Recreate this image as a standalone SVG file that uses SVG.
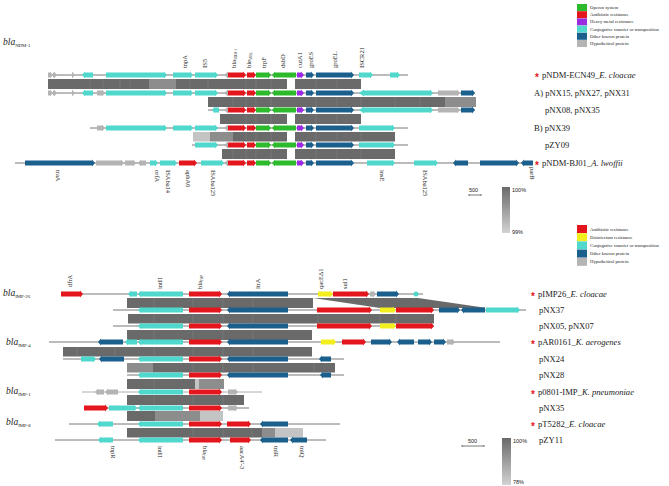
<svg xmlns="http://www.w3.org/2000/svg" width="669" height="486" viewBox="0 0 669 486">
<style>
.c{fill:#4fd8cb}.r{fill:#e3161d}.g{fill:#2dba2d}.p{fill:#9a2be0}.b{fill:#1b5f8d}.h{fill:#b4b4b4}.y{fill:#f3ee1d}
.ln{stroke:#555;stroke-width:0.8;fill:none}
.ll{stroke:#999;stroke-width:0.8;fill:none}
.bd{fill:#6a6a6a}.md{fill:#8d8d8d}.lt{fill:#c4c4c4}
.sep{stroke:#7f7f7f;stroke-width:0.6;fill:none}
text{font-family:"Liberation Serif","Times New Roman",serif;fill:#1a1a1a}
.gl{font-size:6.5px}
.sub{font-size:3.6px}
.lb{font-size:8.6px}
.lg{font-size:4.7px}
.sc{font-family:"Liberation Sans",Arial,sans-serif;font-size:5.5px}
.st{font-family:"Liberation Sans",Arial,sans-serif;font-size:10px;font-weight:bold;fill:#e3161d}
.it{font-style:italic}
</style>
<defs>
<linearGradient id="grad" x1="0" y1="0" x2="0" y2="1"><stop offset="0" stop-color="#6a6a6a"/><stop offset="1" stop-color="#d2d2d2"/></linearGradient>
<g id="core1">
<path class="h" d="M228 -3.5L224 0L228 3.5z"/>
<path class="r" d="M228 -2.5H243v-1l3 3.5-3 3.5v-1H228z"/>
<path class="r" d="M247 -2.5H253v-1l3 3.5-3 3.5v-1H247z"/>
<path class="g" d="M256 -2.5H268v-1l3 3.5-3 3.5v-1H256z"/>
<path class="g" d="M296 -2.5H275v-1l-3 3.5 3 3.5v-1H296z"/>
<path class="p" d="M297 -2.5H301v-1l3 3.5-3 3.5v-1H297z"/>
<path class="b" d="M306 -2.5H311v-1l3 3.5-3 3.5v-1H306z"/>
<path class="b" d="M316 -2.5H351v-1l3 3.5-3 3.5v-1H316z"/>
</g>
<g id="left3" class="c">
<path d="M106 -2.5H164v-1l3 3.5-3 3.5v-1H106z"/>
<path d="M173 -2.5H190v-1l3 3.5-3 3.5v-1H173z"/>
<path d="M195 -2.5H215v-1l3 3.5-3 3.5v-1H195z"/>
</g>
<g id="rt2">
<path class="c" d="M364 -3.5L359 0L364 3.5z"/>
<path class="c" d="M364 -2.5H430v-1l3 3.5-3 3.5v-1H364z"/>
<path class="h" d="M438 -2.5H457v-1l3 3.5-3 3.5v-1H438z"/>
<path class="b" d="M461 -2.5H472v-1l3 3.5-3 3.5v-1H461z"/>
</g>
<g id="gg">
<path class="h" d="M48 -2.5H50v-1l3 3.5-3 3.5v-1H48z"/>
<path class="h" d="M53 -2.5H54v-1l3 3.5-3 3.5v-1H53z"/>
<path class="h" d="M72 -3.5L75 0L72 3.5z"/>
<path class="c" d="M93 -2.5H85v-1l-3 3.5 3 3.5v-1H93z"/>
</g>
<g id="bc1">
<path class="c" d="M183 -2.5H141v-1l-3 3.5 3 3.5v-1H183z"/>
<path class="r" d="M189 -2.5H219v-1l3 3.5-3 3.5v-1H189z"/>
</g>
<path id="bc2" class="b" d="M288 -2.5H230v-1l-3 3.5 3 3.5v-1H288z"/>
</defs>

<g id="legend-top">
<rect x="577" y="4" width="10" height="7" fill="#2dba2d"/>
<rect x="577" y="11.2" width="10" height="7" fill="#e3161d"/>
<rect x="577" y="18.4" width="10" height="7" fill="#9a2be0"/>
<rect x="577" y="25.6" width="10" height="7" fill="#4fd8cb"/>
<rect x="577" y="32.8" width="10" height="7" fill="#1b5f8d"/>
<rect x="577" y="40" width="10" height="7" fill="#b4b4b4"/>
<text class="lg" x="590" y="9">Operon system</text>
<text class="lg" x="590" y="16.2">Antibiotic resistance</text>
<text class="lg" x="590" y="23.4">Heavy metal resistance</text>
<text class="lg" x="590" y="30.6">Conjugative transfer or transposition</text>
<text class="lg" x="590" y="37.8">Other known protein</text>
<text class="lg" x="590" y="45">Hypothetical protein</text>
</g>

<g id="legend-bottom">
<rect x="577" y="225" width="10" height="8" fill="#e3161d"/>
<rect x="577" y="233.2" width="10" height="8" fill="#f3ee1d"/>
<rect x="577" y="241.4" width="10" height="8" fill="#4fd8cb"/>
<rect x="577" y="249.6" width="10" height="8" fill="#1b5f8d"/>
<rect x="577" y="257.8" width="10" height="8" fill="#b4b4b4"/>
<text class="lg" x="590" y="230.5">Antibiotic resistance</text>
<text class="lg" x="590" y="238.7">Disinfectant resistance</text>
<text class="lg" x="590" y="246.9">Conjugative transfer or transposition</text>
<text class="lg" x="590" y="255.1">Other known protein</text>
<text class="lg" x="590" y="263.3">Hypothetical protein</text>
</g>

<g id="bands-top">
<rect class="bd" x="48" y="79" width="239" height="10"/>
<rect class="md" x="149" y="79" width="27" height="10"/>
<rect class="bd" x="295" y="79" width="66" height="10"/>
<rect class="bd" x="208" y="97" width="237" height="10"/>
<rect class="md" x="445" y="97" width="31" height="10"/>
<rect class="bd" x="220" y="114" width="67" height="10"/>
<rect class="bd" x="295" y="114" width="66" height="10"/>
<rect class="lt" x="193" y="132" width="17" height="9.5"/>
<rect class="md" x="210" y="132" width="23" height="9.5"/>
<rect class="bd" x="233" y="132" width="54" height="9.5"/>
<rect class="bd" x="295" y="132" width="100" height="9.5"/>
<rect class="bd" x="222" y="149" width="65" height="10"/>
<rect class="bd" x="295" y="149" width="100" height="10"/>
<path class="sep" d="M90 79v10M103 79v10M120 79v10M130 79v10M190 79v10M208 79v10M246 79v10M256 79v10M271 79v10M316 79v10M337 79v10M233 97v10M246 97v10M256 97v10M271 97v10M316 97v10M337 97v10M361 97v10M395 97v10M420 97v10M246 114v10M256 114v10M271 114v10M316 114v10M337 114v10M246 132v9.5M256 132v9.5M271 132v9.5M316 132v9.5M337 132v9.5M361 132v9.5M233 149v10M246 149v10M256 149v10M271 149v10M316 149v10M337 149v10M361 149v10"/>
</g>

<g id="row-pNDM-ECN49" transform="translate(0,75)">
<path class="ln" d="M48 0H408"/>
<use href="#gg"/><use href="#left3"/><use href="#core1"/>
<path class="c" d="M359 -2.5H370v-1l3 3.5-3 3.5v-1H359z"/>
<path class="c" d="M390 -2.5H397v-1l3 3.5-3 3.5v-1H390z"/>
</g>
<g id="row-A" transform="translate(0,93)">
<path class="ln" d="M48 0H475"/>
<use href="#gg"/>
<path class="h" d="M97 -2.5H102v-1l3 3.5-3 3.5v-1H97z"/>
<use href="#left3"/><use href="#core1"/><use href="#rt2"/>
</g>
<g id="row-pNX08" transform="translate(0,110)">
<path class="ln" d="M208 0H475"/>
<path class="c" d="M219 -2.5H215v-1l-3 3.5 3 3.5v-1H219z"/>
<use href="#core1"/><use href="#rt2"/>
</g>
<g id="row-B" transform="translate(0,128)">
<path class="ln" d="M90 0H408"/>
<path class="h" d="M97 -2.5H102v-1l3 3.5-3 3.5v-1H97z"/>
<use href="#left3"/><use href="#core1"/>
<path class="c" d="M359 -2.5H392v-1l3 3.5-3 3.5v-1H359z"/>
</g>
<g id="row-pZY09" transform="translate(0,145)">
<path class="ln" d="M192 0H408"/>
<path class="c" d="M195 -2.5H215v-1l3 3.5-3 3.5v-1H195z"/>
<use href="#core1"/>
<path class="c" d="M359 -2.5H392v-1l3 3.5-3 3.5v-1H359z"/>
</g>
<g id="row-pNDM-BJ01" transform="translate(0,163)">
<path class="ln" d="M15 0H533"/>
<path class="b" d="M25 -2.5H92v-1l3 3.5-3 3.5v-1H25z"/>
<path class="h" d="M96 -2.5H121v-1l3 3.5-3 3.5v-1H96z"/>
<path class="h" d="M125 -2.5H133v-1l3 3.5-3 3.5v-1H125z"/>
<path class="h" d="M146 -2.5H141v-1l-3 3.5 3 3.5v-1H146z"/>
<path class="c" d="M150 -2.5H155v-1l3 3.5-3 3.5v-1H150z"/>
<path class="c" d="M160 -2.5H174v-1l3 3.5-3 3.5v-1H160z"/>
<path class="r" d="M179 -2.5H194v-1l3 3.5-3 3.5v-1H179z"/>
<path class="c" d="M201 -2.5H221v-1l3 3.5-3 3.5v-1H201z"/>
<use href="#core1"/>
<path class="c" d="M367 -2.5H392v-1l3 3.5-3 3.5v-1H367z"/>
<path class="c" d="M414 -2.5H435v-1l3 3.5-3 3.5v-1H414z"/>
<path class="b" d="M468 -2.5H456v-1l-3 3.5 3 3.5v-1H468z"/>
<path class="b" d="M480 -2.5H516v-1l3 3.5-3 3.5v-1H480z"/>
<path class="b" d="M533 -2.5H524v-1l-3 3.5 3 3.5v-1H533z"/>
</g>

<g id="labels-top">
<text x="3" y="45" class="it" font-size="9.5">bla<tspan font-style="normal" font-size="4.8" dy="1.5">NDM-1</tspan></text>
<text class="gl" transform="translate(187,68) rotate(-90)">tnpA</text>
<text class="gl" transform="translate(207,68) rotate(-90)">IS5</text>
<text class="gl" transform="translate(236,68) rotate(-90)">bla<tspan class="sub" dy="1">NDM-1</tspan></text>
<text class="gl" transform="translate(251,68) rotate(-90)">ble<tspan class="sub" dy="1">MBL</tspan></text>
<text class="gl" transform="translate(266,68) rotate(-90)">trpF</text>
<text class="gl" transform="translate(285,68) rotate(-90)">dsbD</text>
<text class="gl" transform="translate(302,68) rotate(-90)">cutA1</text>
<text class="gl" transform="translate(313,68) rotate(-90)">groES</text>
<text class="gl" transform="translate(337,68) rotate(-90)">groEL</text>
<text class="gl" transform="translate(364,68) rotate(-90)">ISCR21</text>
<text class="gl" transform="translate(56,170) rotate(90)">traA</text>
<text class="gl" transform="translate(155,170) rotate(90)">orfA</text>
<text class="gl" transform="translate(166,170) rotate(90)">ISAba14</text>
<text class="gl" transform="translate(186,170) rotate(90)">aphA6</text>
<text class="gl" transform="translate(211,170) rotate(90)">ISAba125</text>
<text class="gl" transform="translate(380,170) rotate(90)">insE</text>
<text class="gl" transform="translate(423,170) rotate(90)">ISAba125</text>
<text class="gl" transform="translate(530,167) rotate(90)">parB</text>
<text class="st" x="535" y="81">*</text>
<text class="lb" x="542" y="78">pNDM-ECN49_<tspan class="it">E. cloacae</tspan></text>
<text class="lb" x="534" y="96">A) pNX15, pNX27, pNX31</text>
<text class="lb" x="545" y="113">pNX08, pNX35</text>
<text class="lb" x="534" y="131">B) pNX39</text>
<text class="lb" x="545" y="148">pZY09</text>
<text class="st" x="535" y="169">*</text>
<text class="lb" x="542" y="166">pNDM-BJ01_<tspan class="it">A. lwoffii</tspan></text>
</g>

<g id="scale-top">
<text class="sc" x="469" y="192">500</text>
<path class="ln" d="M469 195H481M469 194v2M481 194v2" stroke-width="0.6"/>
<rect x="502" y="187" width="8" height="46" fill="url(#grad)"/>
<text class="sc" x="512" y="192">100%</text>
<text class="sc" x="512" y="234">99%</text>
</g>

<g id="bands-bottom">
<rect class="bd" x="127" y="298" width="186" height="10"/>
<polygon class="bd" points="313,298 418,298 487,308 380,308"/>
<rect class="bd" x="128" y="314" width="306" height="9.5"/>
<rect class="bd" x="127" y="330" width="185" height="10"/>
<rect class="bd" x="63" y="347" width="249" height="9.5"/>
<rect class="md" x="127" y="363" width="26" height="9.5"/>
<rect class="bd" x="153" y="363" width="182" height="9.5"/>
<rect class="bd" x="127" y="379" width="68" height="10"/>
<rect class="lt" x="195" y="379" width="4" height="10"/>
<rect class="md" x="199" y="379" width="25" height="10"/>
<rect class="bd" x="127" y="395" width="117" height="10"/>
<rect class="bd" x="127" y="411" width="28" height="10"/>
<rect class="md" x="155" y="411" width="45" height="10"/>
<rect class="lt" x="200" y="411" width="23" height="10"/>
<rect class="bd" x="127" y="428" width="135" height="9.5"/>
<rect class="md" x="262" y="428" width="13" height="9.5"/>
<rect class="lt" x="275" y="428" width="28" height="9.5"/>
<path class="sep" d="M154 298v10M193 298v10M223 298v10M253 298v10M154 314v9.5M193 314v9.5M223 314v9.5M253 314v9.5M318 314v9.5M380 314v9.5M396 314v9.5M154 330v10M193 330v10M223 330v10M253 330v10M77 347v9.5M115 347v9.5M154 347v9.5M193 347v9.5M223 347v9.5M253 347v9.5M193 363v9.5M223 363v9.5M253 363v9.5M314 363v9.5M154 379v10M154 395v10M193 395v10M223 395v10M193 428v9.5M223 428v9.5M252 428v9.5"/>
</g>

<g id="row-pIMP26" transform="translate(0,294)">
<path class="ln" d="M61 0H423"/>
<path class="r" d="M61 -2.5H80v-1l3 3.5-3 3.5v-1H61z"/>
<path class="c" d="M137 -2.5H131v-1l-3 3.5 3 3.5v-1H137z"/>
<use href="#bc1"/><use href="#bc2"/>
<path class="y" d="M318 -2.5H330v-1l3 3.5-3 3.5v-1H318z"/>
<path class="r" d="M333 -2.5H366v-1l3 3.5-3 3.5v-1H333z"/>
<path class="h" d="M370 -2.5H373v-1l3 3.5-3 3.5v-1H370z"/>
<path class="b" d="M377 -2.5H396v-1l3 3.5-3 3.5v-1H377z"/>
<circle class="c" cx="416" cy="0" r="2.5"/>
</g>
<g id="row-pNX37" transform="translate(0,310)">
<path class="ln" d="M113 0H526"/>
<use href="#bc1"/><use href="#bc2"/>
<path class="r" d="M317 -2.5H369v-1l3 3.5-3 3.5v-1H317z"/>
<path class="y" d="M380 -2.5H393v-1l3 3.5-3 3.5v-1H380z"/>
<path class="r" d="M396 -2.5H431v-1l3 3.5-3 3.5v-1H396z"/>
<path class="b" d="M439 -2.5H457v-1l3 3.5-3 3.5v-1H439z"/>
<path class="b" d="M485 -2.5H464v-1l-3 3.5 3 3.5v-1H485z"/>
<path class="c" d="M486 -2.5H517v-1l3 3.5-3 3.5v-1H486z"/>
</g>
<g id="row-pNX05" transform="translate(0,326)">
<path class="ln" d="M113 0H434"/>
<use href="#bc1"/><use href="#bc2"/>
<path class="r" d="M317 -2.5H369v-1l3 3.5-3 3.5v-1H317z"/>
<path class="y" d="M380 -2.5H393v-1l3 3.5-3 3.5v-1H380z"/>
<path class="r" d="M396 -2.5H431v-1l3 3.5-3 3.5v-1H396z"/>
</g>
<g id="row-pAR0161" transform="translate(0,342)">
<path class="ln" d="M49 0H500"/>
<path class="b" d="M123 -2.5H101v-1l-3 3.5 3 3.5v-1H123z"/>
<path class="c" d="M137 -2.5H128v-1l-3 3.5 3 3.5v-1H137z"/>
<use href="#bc1"/><use href="#bc2"/>
<path class="y" d="M321 -2.5H333v-1l3 3.5-3 3.5v-1H321z"/>
<path class="r" d="M342 -2.5H363v-1l3 3.5-3 3.5v-1H342z"/>
<path class="b" d="M371 -2.5H389v-1l3 3.5-3 3.5v-1H371z"/>
<path class="b" d="M414 -2.5H400v-1l-3 3.5 3 3.5v-1H414z"/>
<path class="b" d="M418 -2.5H429v-1l3 3.5-3 3.5v-1H418z"/>
<path class="b" d="M434 -2.5H443v-1l3 3.5-3 3.5v-1H434z"/>
<path class="h" d="M447 -2.5H452v-1l3 3.5-3 3.5v-1H447z"/>
</g>
<g id="row-pNX24" transform="translate(0,359)">
<path class="ln" d="M63 0H344"/>
<path class="c" d="M81 -2.5H93v-1l3 3.5-3 3.5v-1H81z"/>
<path class="b" d="M124 -2.5H102v-1l-3 3.5 3 3.5v-1H124z"/>
<use href="#bc1"/><use href="#bc2"/>
<path class="b" d="M331 -2.5H322v-1l-3 3.5 3 3.5v-1H331z"/>
</g>
<g id="row-pNX28" transform="translate(0,375)">
<path class="ln" d="M127 0H344"/>
<use href="#bc1"/><use href="#bc2"/>
<path class="b" d="M331 -2.5H323v-1l-3 3.5 3 3.5v-1H331z"/>
</g>
<g id="row-p0801" transform="translate(0,392)">
<path class="ll" d="M82 0H262"/>
<path class="h" d="M104 -2.5H98v-1l-3 3.5 3 3.5v-1H104z"/>
<path class="h" d="M118 -2.5H108v-1l-3 3.5 3 3.5v-1H118z"/>
<use href="#bc1"/>
<path class="h" d="M228 -2.5H235v-1l3 3.5-3 3.5v-1H228z"/>
</g>
<g id="row-pNX35" transform="translate(0,408)">
<path class="ln" d="M84 0H249"/>
<path class="r" d="M84 -2.5H105v-1l3 3.5-3 3.5v-1H84z"/>
<path class="c" d="M109 -2.5H134v-1l3 3.5-3 3.5v-1H109z"/>
<use href="#bc1"/>
<path class="h" d="M228 -2.5H235v-1l3 3.5-3 3.5v-1H228z"/>
</g>
<g id="row-pT5282" transform="translate(0,424)">
<path class="ln" d="M69 0H340"/>
<path class="c" d="M113 -2.5H100v-1l-3 3.5 3 3.5v-1H113z"/>
<use href="#bc1"/>
<path class="r" d="M227 -2.5H248v-1l3 3.5-3 3.5v-1H227z"/>
<path class="b" d="M288 -2.5H263v-1l-3 3.5 3 3.5v-1H288z"/>
</g>
<g id="row-pZY11" transform="translate(0,440)">
<path class="ln" d="M55 0H326"/>
<path class="c" d="M113 -2.5H101v-1l-3 3.5 3 3.5v-1H113z"/>
<use href="#bc1"/>
<path class="r" d="M230 -2.5H248v-1l3 3.5-3 3.5v-1H230z"/>
<path class="b" d="M288 -2.5H263v-1l-3 3.5 3 3.5v-1H288z"/>
<path class="b" d="M307 -2.5H293v-1l-3 3.5 3 3.5v-1H307z"/>
</g>

<g id="labels-bottom">
<text x="3" y="296" class="it" font-size="9.5">bla<tspan font-style="normal" font-size="4.8" dy="1.5">IMP-26</tspan></text>
<text x="6" y="345" class="it" font-size="9.5">bla<tspan font-style="normal" font-size="4.8" dy="1.5">IMP-4</tspan></text>
<text x="6" y="394" class="it" font-size="9.5">bla<tspan font-style="normal" font-size="4.8" dy="1.5">IMP-1</tspan></text>
<text x="6" y="425" class="it" font-size="9.5">bla<tspan font-style="normal" font-size="4.8" dy="1.5">IMP-8</tspan></text>
<text class="gl" transform="translate(72,287) rotate(-90)">dfrA</text>
<text class="gl" transform="translate(162,289) rotate(-90)">intI1</text>
<text class="gl" transform="translate(202,289) rotate(-90)">bla<tspan class="sub" dy="1">IMP</tspan></text>
<text class="gl" transform="translate(260,289) rotate(-90)">ltrA</text>
<text class="gl" transform="translate(323,289) rotate(-90)">qacEΔ1</text>
<text class="gl" transform="translate(347,289) rotate(-90)">sul1</text>
<text class="gl" transform="translate(111,446) rotate(90)">tnpR</text>
<text class="gl" transform="translate(158,446) rotate(90)">intI1</text>
<text class="gl" transform="translate(203,446) rotate(90)">bla<tspan class="sub" dy="1">IMP</tspan></text>
<text class="gl" transform="translate(240,446) rotate(90)">aacA4'-3</text>
<text class="gl" transform="translate(274,446) rotate(90)">tniR</text>
<text class="gl" transform="translate(300,446) rotate(90)">tniQ</text>
<text class="st" x="531" y="300">*</text>
<text class="lb" x="538" y="297">pIMP26_<tspan class="it">E. cloacae</tspan></text>
<text class="lb" x="539" y="313">pNX37</text>
<text class="lb" x="539" y="329">pNX05, pNX07</text>
<text class="st" x="531" y="348">*</text>
<text class="lb" x="538" y="345">pAR0161_<tspan class="it">K. aerogenes</tspan></text>
<text class="lb" x="539" y="362">pNX24</text>
<text class="lb" x="539" y="378">pNX28</text>
<text class="st" x="531" y="398">*</text>
<text class="lb" x="538" y="395">p0801-IMP_<tspan class="it">K. pneumoniae</tspan></text>
<text class="lb" x="539" y="411">pNX35</text>
<text class="st" x="531" y="430">*</text>
<text class="lb" x="538" y="427">pT5282_<tspan class="it">E. cloacae</tspan></text>
<text class="lb" x="539" y="443">pZY11</text>
</g>

<g id="scale-bottom">
<text class="sc" x="468" y="443">500</text>
<path class="ln" d="M462 446H484M462 445v2M484 445v2" stroke-width="0.6"/>
<rect x="502" y="438" width="9" height="47" fill="url(#grad)"/>
<text class="sc" x="513" y="443">100%</text>
<text class="sc" x="513" y="484">78%</text>
</g>
</svg>
